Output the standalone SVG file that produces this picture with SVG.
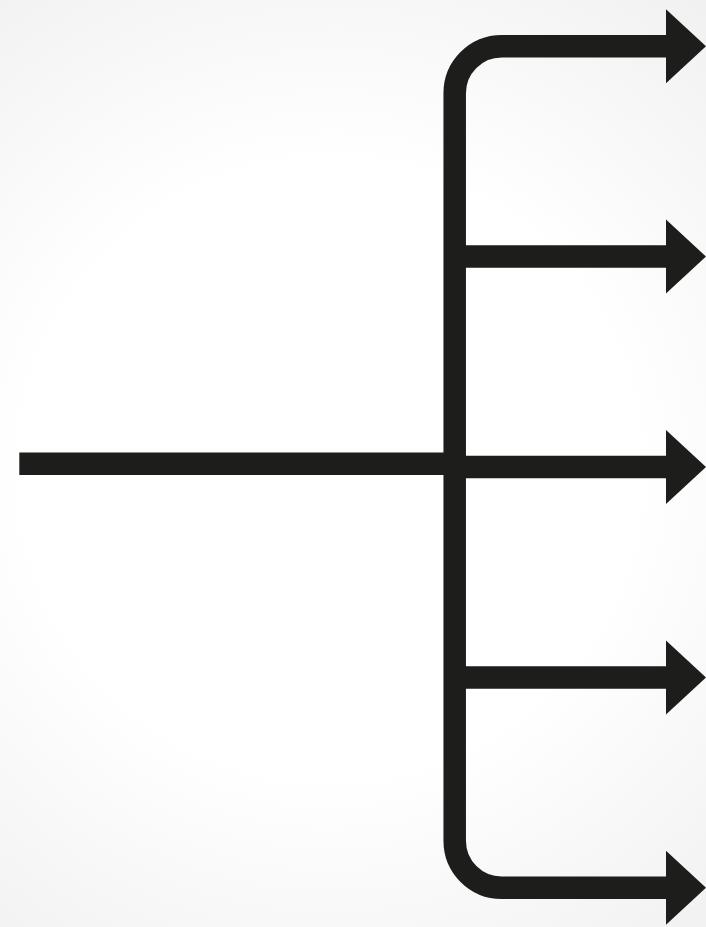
<svg xmlns="http://www.w3.org/2000/svg" width="706" height="927" viewBox="0 0 706 927">
  <defs>
    <radialGradient id="bg" cx="330" cy="470" r="680" gradientUnits="userSpaceOnUse">
      <stop offset="0" stop-color="#ffffff"/>
      <stop offset="0.45" stop-color="#ffffff"/>
      <stop offset="1" stop-color="#ededed"/>
    </radialGradient>
  </defs>
  <style>
    .ln { fill: none; stroke: #1d1d1b; stroke-width: 22.5; stroke-linecap: butt; stroke-linejoin: miter; }
    .hd { fill: #1d1d1b; }
  </style>
  <rect x="0" y="0" width="706" height="927" fill="url(#bg)"/>
  <g id="connectors">
    <path id="input" class="ln" d="M19.3 463.7 H455"/>
    <path id="trunk" class="ln" d="M666.5 46.2 H501.7 A47 47 0 0 0 454.7 93.2 V840.7 A47 47 0 0 0 501.7 887.7 H666.5"/>
    <path id="branch2" class="ln" d="M454.7 256.6 H666.5"/>
    <path id="branch3" class="ln" d="M454.7 467 H666.5"/>
    <path id="branch4" class="ln" d="M454.7 677.4 H666.5"/>
    <polygon id="head1" class="hd" points="666,9.2 706,46.2 666,83.2"/>
    <polygon id="head2" class="hd" points="666,219.6 706,256.6 666,293.6"/>
    <polygon id="head3" class="hd" points="666,430 706,467 666,504"/>
    <polygon id="head4" class="hd" points="666,640.4 706,677.4 666,714.4"/>
    <polygon id="head5" class="hd" points="666,850.7 706,887.7 666,924.7"/>
  </g>
</svg>
